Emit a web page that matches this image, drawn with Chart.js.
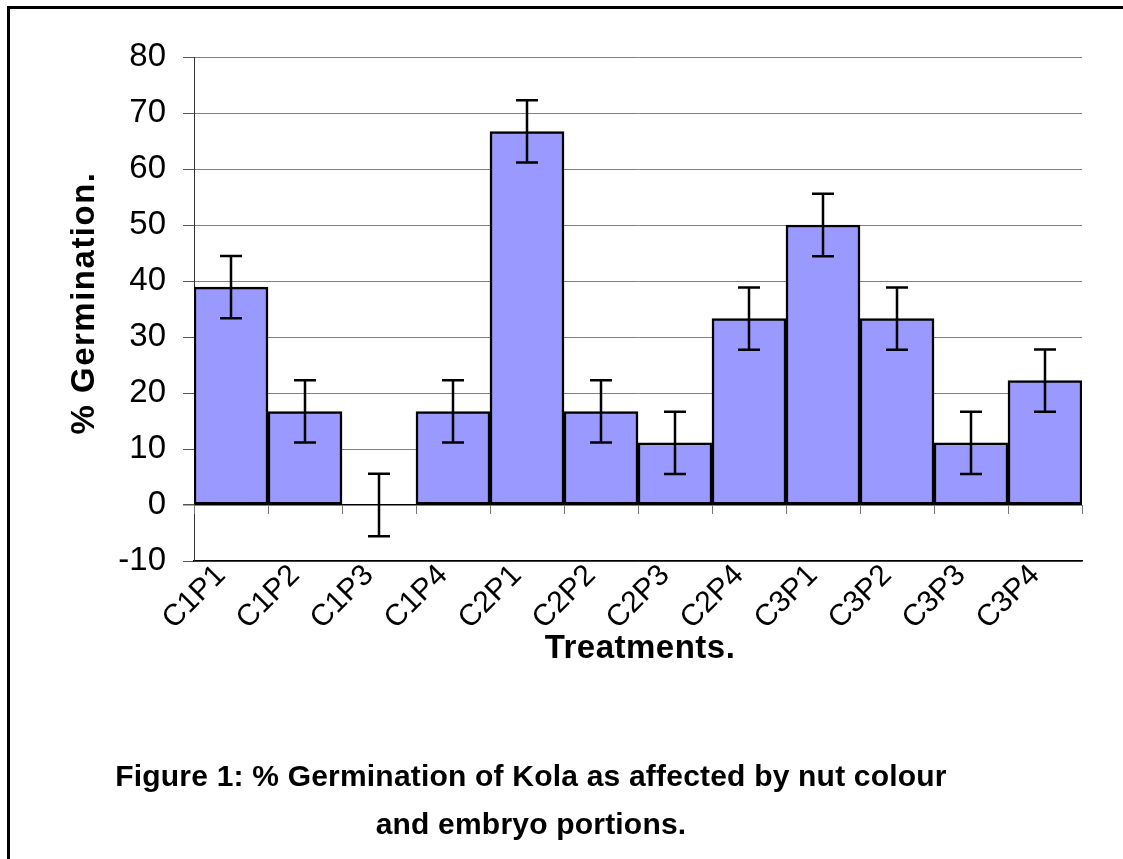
<!DOCTYPE html>
<html>
<head>
<meta charset="utf-8">
<script src="https://cdn.jsdelivr.net/npm/chart.js@4.4.1/dist/chart.umd.min.js"></script>
<style>
    html, body { margin: 0; padding: 0; background: #fff; overflow: hidden; }
    #wrap { position: absolute; left: 0; top: 0; width: 1123px; height: 859px; }
    #frame { position: absolute; left: 7px; top: 6px; width: 1140px; height: 880px; border: 3px solid #000; }
    #caption {
        position: absolute; left: 0; width: 1062px; top: 752px; white-space: nowrap;
        text-align: center; font-family: "Liberation Sans", Arial, sans-serif;
        font-weight: bold; font-size: 30px; letter-spacing: 0.2px; line-height: 48px; color: #000;
    }
</style>
</head>
<body>
<div id="wrap">
    <div id="frame"></div>
    <canvas id="germChart" width="1123" height="859"></canvas>
    <div id="caption">Figure 1: % Germination of Kola as affected by nut colour<br>and embryo portions.</div>
</div>
<script>
// treatments and % germination
const treatments = ['C1P1', 'C1P2', 'C1P3', 'C1P4', 'C2P1', 'C2P2', 'C2P3', 'C2P4', 'C3P1', 'C3P2', 'C3P3', 'C3P4'];
const germination = [38.9, 16.7, 0, 16.7, 66.7, 16.7, 11.1, 33.3, 50, 33.3, 11.1, 22.2];
const stdErrors = [5.56, 5.56, 5.56, 5.56, 5.56, 5.56, 5.56, 5.56, 5.56, 5.56, 5.56, 5.56];
const yTicks = [-10, 0, 10, 20, 30, 40, 50, 60, 70, 80];
const xTitle = 'Treatments.';
const yTitle = '% Germination.';

// error bars, little ticks under the zero line, and the axis titles
const extrasPlugin = {
    id: 'extras',
    afterDatasetsDraw: function(chart) {
        const ctx = chart.ctx;
        const x = chart.scales.x;
        const y = chart.scales.y;
        ctx.save();

        // category boundary ticks below 0
        ctx.strokeStyle = '#777';
        ctx.lineWidth = 1;
        const y0 = y.getPixelForValue(0);
        for (let i = 0; i <= treatments.length; i++) {
            const px = Math.round(x.left + (x.right - x.left) * i / treatments.length) + 0.5;
            ctx.beginPath();
            ctx.moveTo(px, y0);
            ctx.lineTo(px, y0 + 9);
            ctx.stroke();
        }

        ctx.strokeStyle = '#000';
        ctx.lineWidth = 2.5;
        for (let i = 0; i < germination.length; i++) {
            const cx = x.getPixelForValue(i);
            const top = y.getPixelForValue(germination[i] + stdErrors[i]);
            const bot = y.getPixelForValue(germination[i] - stdErrors[i]);
            ctx.beginPath();
            ctx.moveTo(cx, top);
            ctx.lineTo(cx, bot);
            ctx.moveTo(cx - 11, top);
            ctx.lineTo(cx + 11, top);
            ctx.moveTo(cx - 11, bot);
            ctx.lineTo(cx + 11, bot);
            ctx.stroke();
        }

        // titles (letter spaced like the original)
        ctx.fillStyle = '#000';
        ctx.textAlign = 'center';
        ctx.textBaseline = 'middle';
        ctx.font = 'bold 33px "Liberation Sans", Arial';
        ctx.letterSpacing = '0.5px';
        ctx.fillText(xTitle, (x.left + x.right) / 2 + 2, 649);

        ctx.letterSpacing = '1.5px';
        ctx.translate(85, 303);
        ctx.rotate(-Math.PI / 2);
        ctx.fillText(yTitle, 0, 0);
        ctx.restore();
    }
};

const ctx = document.getElementById('germChart').getContext('2d');
const germChart = new Chart(ctx, {
    type: 'bar',
    data: {
        labels: treatments,
        datasets: [{
            label: '% Germination',
            data: germination,
            backgroundColor: '#9999ff',
            borderColor: '#000',
            borderWidth: 2.5,
            borderSkipped: false,
            barPercentage: 1,
            categoryPercentage: 1
        }]
    },
    options: {
        responsive: false,
        animation: false,
        layout: {
            padding: { left: 0, right: 41, top: 57, bottom: 0 }
        },
        plugins: {
            legend: { display: false },
            tooltip: { enabled: false }
        },
        scales: {
            x: {
                grid: { display: false },
                border: { display: true, color: '#000', width: 1.5 },
                ticks: {
                    color: '#000',
                    font: { family: 'Liberation Sans, Arial', size: 30 },
                    minRotation: 45,
                    maxRotation: 45,
                    padding: -11,
                    labelOffset: -10
                },
                afterFit: function(scale) { scale.height = 298; }
            },
            y: {
                min: -10,
                max: 80,
                afterBuildTicks: function(scale) {
                    scale.ticks = yTicks.map(function(v) { return { value: v }; });
                },
                grid: {
                    color: function(c) { return c.tick && c.tick.value === 0 ? '#000' : '#808080'; },
                    lineWidth: function(c) { return c.tick && c.tick.value === 0 ? 1.5 : 1; },
                    tickColor: '#555',
                    tickLength: 11
                },
                border: { display: true, color: '#333', width: 1 },
                ticks: {
                    color: '#000',
                    font: { family: 'Liberation Sans, Arial', size: 33 },
                    padding: 17
                },
                afterFit: function(scale) { scale.width = 194; }
            }
        }
    },
    plugins: [extrasPlugin]
});
</script>
</body>
</html>
